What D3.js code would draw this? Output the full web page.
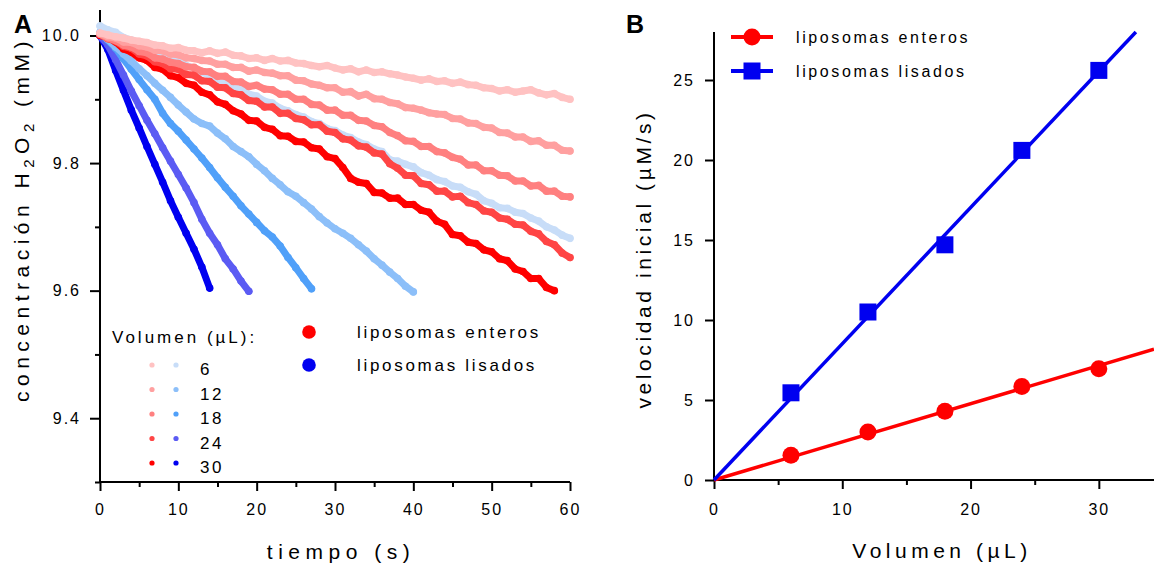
<!DOCTYPE html>
<html><head><meta charset="utf-8">
<script src="https://cdn.jsdelivr.net/npm/d3@7"></script>
<style>
body{margin:0;background:#fff}
svg{display:block}
text{font-family:"Liberation Sans",Arial,sans-serif;fill:#000}
</style>
</head><body><svg id="c" width="1154" height="566"></svg>
<script>
// ---------- DATA ----------
const volumes = [6, 12, 18, 24, 30];
const redColors  = ["#FFC2C2", "#FFA0A0", "#FF8080", "#FF4545", "#FF0000"];
const blueColors = ["#C8DDF8", "#8CBFF9", "#50A0F9", "#5B5BF3", "#0000F0"];

// H2O2 concentration (mM), sampled every 1 s from t = 0
const enteros6  = [10.004,10.001,9.998,9.996,9.993,9.991,9.989,9.985,9.984,9.980,9.981,9.977,9.976,9.973,9.976,9.972,9.974,9.969,9.968,9.964,9.965,9.961,9.964,9.960,9.961,9.957,9.956,9.953,9.951,9.953,9.949,9.946,9.948,9.943,9.946,9.942,9.943,9.940,9.938,9.935,9.933,9.930,9.932,9.928,9.929,9.925,9.927,9.923,9.922,9.918,9.917,9.913,9.915,9.911,9.913,9.915,9.910,9.907,9.909,9.903,9.900];
const enteros12 = [10.003,9.998,9.996,9.990,9.989,9.984,9.982,9.977,9.976,9.971,9.970,9.965,9.964,9.961,9.960,9.955,9.955,9.950,9.950,9.944,9.946,9.942,9.941,9.937,9.937,9.930,9.929,9.924,9.922,9.918,9.918,9.911,9.912,9.905,9.908,9.901,9.900,9.895,9.893,9.887,9.886,9.883,9.879,9.877,9.876,9.870,9.869,9.863,9.862,9.856,9.855,9.848,9.847,9.841,9.841,9.834,9.835,9.828,9.828,9.820,9.819];
const enteros18 = [10.002,9.996,9.992,9.985,9.982,9.975,9.973,9.965,9.963,9.958,9.956,9.951,9.950,9.944,9.943,9.936,9.936,9.928,9.927,9.920,9.922,9.916,9.915,9.908,9.908,9.900,9.900,9.892,9.891,9.883,9.883,9.875,9.875,9.867,9.866,9.859,9.857,9.848,9.843,9.835,9.834,9.826,9.826,9.818,9.816,9.809,9.806,9.797,9.797,9.788,9.788,9.781,9.780,9.772,9.772,9.764,9.765,9.756,9.756,9.748,9.747];
const enteros24 = [10.002,9.995,9.991,9.983,9.980,9.971,9.968,9.959,9.956,9.948,9.947,9.939,9.938,9.929,9.928,9.919,9.918,9.909,9.907,9.898,9.897,9.888,9.888,9.878,9.878,9.870,9.868,9.860,9.860,9.850,9.848,9.838,9.836,9.827,9.825,9.816,9.814,9.799,9.792,9.781,9.780,9.768,9.766,9.756,9.756,9.747,9.748,9.738,9.735,9.725,9.723,9.714,9.712,9.704,9.703,9.693,9.689,9.677,9.672,9.659,9.652];
const enteros30 = [10.000,9.997,9.990,9.979,9.974,9.965,9.961,9.950,9.947,9.937,9.934,9.925,9.922,9.911,9.907,9.896,9.892,9.882,9.877,9.867,9.866,9.856,9.853,9.843,9.842,9.834,9.833,9.824,9.822,9.810,9.807,9.793,9.776,9.770,9.768,9.754,9.753,9.745,9.745,9.735,9.735,9.726,9.723,9.709,9.704,9.688,9.686,9.676,9.674,9.664,9.661,9.650,9.647,9.634,9.630,9.619,9.619,9.605,9.600];

const lisados6  = [10.015,10.009,10.005,9.997,9.993,9.986,9.983,9.975,9.971,9.964,9.960,9.953,9.949,9.942,9.938,9.930,9.927,9.920,9.916,9.908,9.905,9.897,9.894,9.886,9.882,9.876,9.872,9.865,9.862,9.854,9.851,9.844,9.840,9.833,9.829,9.822,9.818,9.805,9.803,9.798,9.794,9.785,9.781,9.774,9.771,9.764,9.762,9.755,9.751,9.741,9.737,9.730,9.729,9.723,9.721,9.714,9.709,9.700,9.695,9.687,9.682];
const lisados12 = [10.005,9.994,9.982,9.971,9.960,9.948,9.937,9.925,9.914,9.903,9.891,9.880,9.869,9.862,9.858,9.847,9.838,9.826,9.818,9.810,9.798,9.788,9.776,9.766,9.755,9.748,9.738,9.728,9.716,9.706,9.697,9.690,9.682,9.672,9.662,9.650,9.640,9.629,9.619,9.607,9.598];
const lisados18 = [10.003,9.993,9.980,9.963,9.947,9.931,9.915,9.900,9.878,9.862,9.850,9.836,9.822,9.808,9.793,9.777,9.762,9.748,9.733,9.720,9.707,9.694,9.684,9.670,9.652,9.636,9.619,9.603];
const lisados24 = [10.000,9.985,9.962,9.938,9.913,9.890,9.867,9.846,9.824,9.803,9.782,9.761,9.738,9.712,9.690,9.672,9.650,9.634,9.615,9.599];
const lisados30 = [10.000,9.978,9.945,9.914,9.883,9.855,9.826,9.798,9.770,9.741,9.715,9.690,9.665,9.637,9.604];

const enterosSeries = [enteros6, enteros12, enteros18, enteros24, enteros30];
const lisadosSeries = [lisados6, lisados12, lisados18, lisados24, lisados30];

// Panel B: initial rate (µM/s) vs volume (µL)
const rateVolumes  = [6, 12, 18, 24, 30];
const rateEnteros  = [1.55, 3.0, 4.3, 5.85, 6.95];
const rateLisados  = [5.45, 10.5, 14.7, 20.6, 25.6];

const ticksA_x = [0, 10, 20, 30, 40, 50, 60];
const minorA_x = [5, 15, 25, 35, 45, 55];
const ticksA_y = [9.4, 9.6, 9.8, 10.0];
const minorA_y = [9.3, 9.5, 9.7, 9.9];
const ticksB_x = [0, 10, 20, 30];
const minorB_x = [5, 15, 25];
const ticksB_y = [0, 5, 10, 15, 20, 25];

// ---------- DRAW ----------
const svg = d3.select("#c");
const FONT = '"Liberation Sans", Arial, sans-serif';

function axisStyle(g){
  g.selectAll("path.domain").remove();
  g.selectAll(".tick line").attr("stroke","#000").attr("stroke-width",2);
  g.selectAll(".tick text").attr("font-family",FONT).attr("font-size",16)
    .attr("letter-spacing","2px").attr("fill","#000");
}

// ===== Panel A =====
const xA = d3.scaleLinear().domain([0, 60]).range([100, 570]);
const yA = d3.scaleLinear().domain([9.3, 10.04]).range([482, 10]);

const gA = svg.append("g");
const gxA = gA.append("g").attr("transform",`translate(0,${yA(9.3)})`)
  .call(d3.axisBottom(xA).tickValues(ticksA_x).tickSize(9).tickPadding(13).tickFormat(d3.format("d")));
axisStyle(gxA);
const gxAm = gA.append("g").attr("transform",`translate(0,${yA(9.3)})`)
  .call(d3.axisBottom(xA).tickValues(minorA_x).tickSize(5).tickFormat(""));
axisStyle(gxAm);
const gyA = gA.append("g").attr("transform",`translate(${xA(0)},0)`)
  .call(d3.axisLeft(yA).tickValues(ticksA_y).tickSize(10).tickPadding(9).tickFormat(d3.format(".1f")));
axisStyle(gyA);
const gyAm = gA.append("g").attr("transform",`translate(${xA(0)},0)`)
  .call(d3.axisLeft(yA).tickValues(minorA_y).tickSize(5).tickFormat(""));
axisStyle(gyAm);
gA.append("line").attr("x1",xA(0)).attr("x2",xA(60)).attr("y1",yA(9.3)).attr("y2",yA(9.3)).attr("stroke","#000").attr("stroke-width",2);
gA.append("line").attr("x1",xA(0)).attr("x2",xA(0)).attr("y1",yA(9.3)).attr("y2",yA(10.04)).attr("stroke","#000").attr("stroke-width",2);

// traces
const lineA = d3.line().x((d,i)=>xA(i)).y(d=>yA(d));
function drawTrace(data, color){
  gA.append("path").attr("d", lineA(data)).attr("fill","none")
    .attr("stroke", color).attr("stroke-width", 7)
    .attr("stroke-linejoin","round").attr("stroke-linecap","round");
  gA.append("g").selectAll("circle").data(data).join("circle")
    .attr("cx",(d,i)=>xA(i)).attr("cy",d=>yA(d)).attr("r",3.8).attr("fill",color);
}
for (let k = 4; k >= 0; k--) drawTrace(lisadosSeries[k], blueColors[k]);
for (let k = 4; k >= 0; k--) drawTrace(enterosSeries[k], redColors[k]);

// legend A
gA.append("text").attr("x",112).attr("y",343).attr("font-size",17).attr("letter-spacing","3px")
  .text("Volumen (µL):");
volumes.forEach((v,i)=>{
  const yy = 365 + i*24.5;
  gA.append("circle").attr("cx",152).attr("cy",yy).attr("r",2.6).attr("fill",redColors[i]);
  gA.append("circle").attr("cx",176).attr("cy",yy).attr("r",2.6).attr("fill",blueColors[i]);
  gA.append("text").attr("x",200).attr("y",yy+10).attr("font-size",17).attr("letter-spacing","2.6px").text(v);
});
[["liposomas enteros","#FF0000"],["liposomas lisados","#0000F0"]].forEach((d,i)=>{
  const yy = 332 + i*33;
  gA.append("circle").attr("cx",309).attr("cy",yy).attr("r",6.8).attr("fill",d[1]);
  gA.append("text").attr("x",357).attr("y",yy+6).attr("font-size",17).attr("letter-spacing","2.7px").text(d[0]);
});

// axis titles A
gA.append("text").attr("x",341).attr("y",559).attr("text-anchor","middle")
  .attr("font-size",21).attr("letter-spacing","5.5px").text("tiempo (s)");
const ytA = gA.append("text").attr("transform","translate(29,219) rotate(-90)")
  .attr("text-anchor","middle").attr("font-size",21).attr("letter-spacing","5.5px");
ytA.append("tspan").text("concentración H");
ytA.append("tspan").attr("font-size",15).attr("dy",5).text("2");
ytA.append("tspan").attr("dy",-5).text("O");
ytA.append("tspan").attr("font-size",15).attr("dy",5).text("2");
ytA.append("tspan").attr("dy",-5).text(" (mM)");

svg.append("text").attr("x",14).attr("y",33).attr("font-size",25).attr("font-weight","bold").text("A");
svg.append("text").attr("x",626).attr("y",33).attr("font-size",25).attr("font-weight","bold").text("B");

// ===== Panel B =====
const xB = d3.scaleLinear().domain([0, 34.3]).range([714, 1154]);
const yB = d3.scaleLinear().domain([0, 28]).range([480, 32]);
const gB = svg.append("g");

const gxB = gB.append("g").attr("transform",`translate(0,${yB(0)})`)
  .call(d3.axisBottom(xB).tickValues(ticksB_x).tickSize(9).tickPadding(15));
axisStyle(gxB);
const gxBm = gB.append("g").attr("transform",`translate(0,${yB(0)})`)
  .call(d3.axisBottom(xB).tickValues(minorB_x).tickSize(5).tickFormat(""));
axisStyle(gxBm);
const gyB = gB.append("g").attr("transform",`translate(${xB(0)},0)`)
  .call(d3.axisLeft(yB).tickValues(ticksB_y).tickSize(9).tickPadding(10));
axisStyle(gyB);
gB.append("line").attr("x1",xB(0)).attr("x2",xB(34.3)).attr("y1",yB(0)).attr("y2",yB(0)).attr("stroke","#000").attr("stroke-width",2);
gB.append("line").attr("x1",xB(0)).attr("x2",xB(0)).attr("y1",yB(0)).attr("y2",yB(28)).attr("stroke","#000").attr("stroke-width",2);

// fitted lines through origin (least squares)
function slopeOf(xs, ys){ return d3.sum(xs,(x,i)=>x*ys[i]) / d3.sum(xs,x=>x*x); }
function fitLine(ys, color){
  const m = slopeOf(rateVolumes, ys);
  const xEnd = Math.min(34.3, 28 / m);
  gB.append("line").attr("x1",xB(0)).attr("y1",yB(0)).attr("x2",xB(xEnd)).attr("y2",yB(m*xEnd))
    .attr("stroke",color).attr("stroke-width",3.5);
}
fitLine(rateEnteros, "#FF0000");
fitLine(rateLisados, "#0000F0");
gB.append("g").selectAll("circle").data(rateEnteros).join("circle")
  .attr("cx",(d,i)=>xB(rateVolumes[i])).attr("cy",d=>yB(d)).attr("r",8.5).attr("fill","#FF0000");
gB.append("g").selectAll("rect").data(rateLisados).join("rect")
  .attr("x",(d,i)=>xB(rateVolumes[i])-8.5).attr("y",d=>yB(d)-8.5).attr("width",17).attr("height",17).attr("fill","#0000F0");

// legend B
[["liposomas enteros","#FF0000","c"],["liposomas lisados","#0000F0","s"]].forEach((d,i)=>{
  const yy = 37 + i*34;
  gB.append("line").attr("x1",731).attr("x2",773).attr("y1",yy).attr("y2",yy).attr("stroke",d[1]).attr("stroke-width",4);
  if (d[2]==="c") gB.append("circle").attr("cx",752).attr("cy",yy).attr("r",8.5).attr("fill",d[1]);
  else gB.append("rect").attr("x",743.5).attr("y",yy-8.5).attr("width",17).attr("height",17).attr("fill",d[1]);
  gB.append("text").attr("x",796).attr("y",yy+6).attr("font-size",16).attr("letter-spacing","2.6px").text(d[0]);
});

gB.append("text").attr("x",942).attr("y",558).attr("text-anchor","middle")
  .attr("font-size",21).attr("letter-spacing","4.5px").text("Volumen (µL)");
gB.append("text").attr("transform","translate(651,259) rotate(-90)").attr("text-anchor","middle")
  .attr("font-size",21).attr("letter-spacing","3.6px").text("velocidad inicial (µM/s)");
</script>
</body></html>
